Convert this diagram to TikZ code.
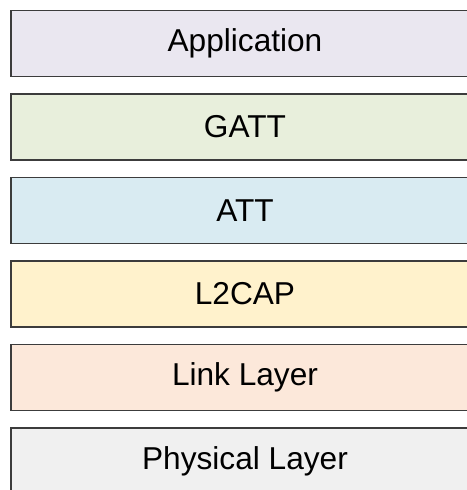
\documentclass[tikz,border=0pt]{standalone}
\usepackage{fontspec}
\setmainfont{Liberation Sans}
\usetikzlibrary{positioning}
\definecolor{DG}{RGB}{60,60,60}
\definecolor{LA}{RGB}{234,231,240}
\definecolor{LG}{RGB}{232,239,220}
\definecolor{LB}{RGB}{217,235,242}
\definecolor{LY}{RGB}{255,242,204}
\definecolor{LO}{RGB}{252,232,218}
\definecolor{LGr}{RGB}{240,240,240}

\begin{document}
\begin{tikzpicture}[
  layer/.style={draw=DG, line width=1.1pt, fill=#1,
                minimum width=9.36cm, minimum height=1.32cm,
                outer sep=0pt, font=\fontsize{18}{20}\selectfont},
  node distance=0.35cm
]
\useasboundingbox (0,0) rectangle (9.34,-9.8);
\clip (0,0) rectangle (9.34,-9.8);

% Protocol stack, top to bottom
\node[layer=LA] (app) at (4.9,-0.87) {Application};
\node[layer=LG, below=of app] (gatt) {GATT};
\node[layer=LB, below=of gatt] (att) {ATT};
\node[layer=LY, below=of att] (l2cap) {L2CAP};
\node[layer=LO, below=of l2cap] (link) {Link Layer};
\node[layer=LGr, below=of link] (phy) {Physical Layer};
\end{tikzpicture}
\end{document}
